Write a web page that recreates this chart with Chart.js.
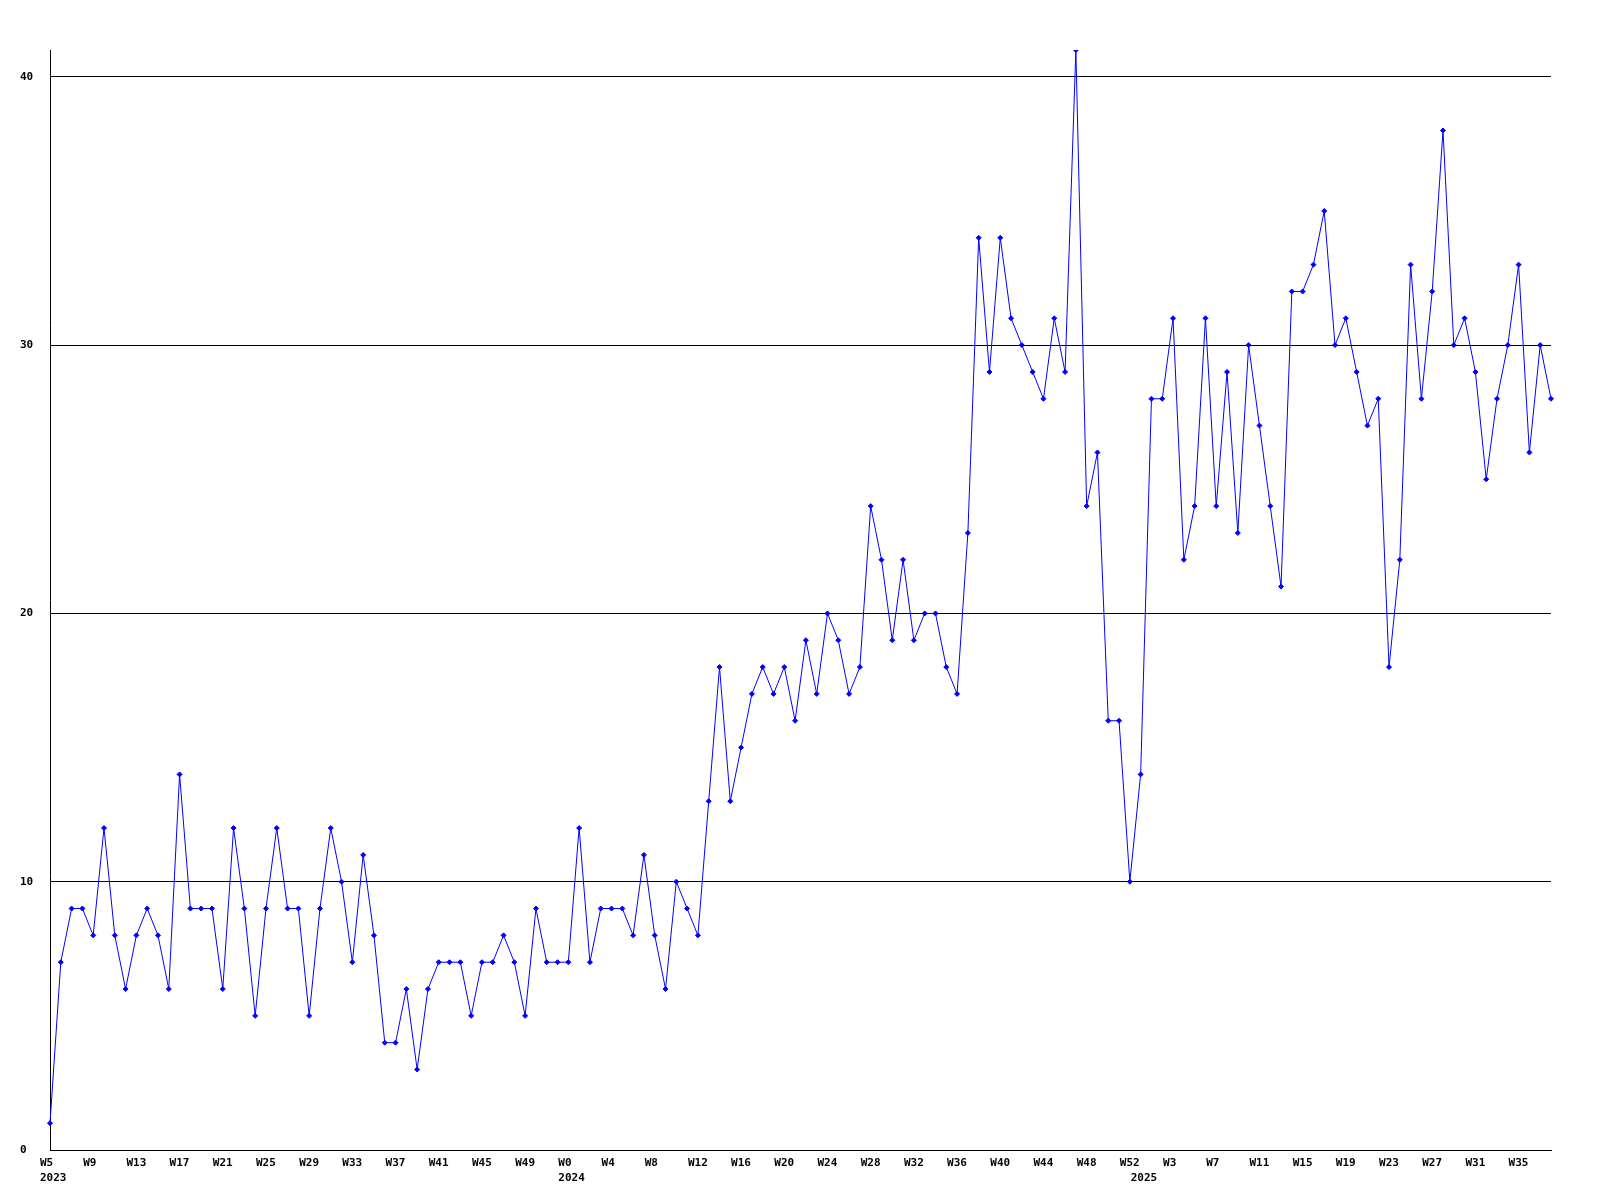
<!DOCTYPE html>
<html>
<head>
<meta charset="utf-8">
<title>Weekly count</title>
<script src="https://cdn.jsdelivr.net/npm/chart.js@4.4.1/dist/chart.umd.min.js"></script>
<style>
  body { margin: 0; background: #fff; }
  #wrap { width: 1600px; height: 1200px; }
</style>
</head>
<body>
<div id="wrap"><canvas id="chart" width="1600" height="1200"></canvas></div>
<script>
// weekly values, one array per year
const values2023 = [1, 7, 9, 9, 8, 12, 8, 6, 8, 9, 8, 6, 14, 9, 9, 9, 6, 12, 9, 5,
  9, 12, 9, 9, 5, 9, 12, 10, 7, 11, 8, 4, 4, 6, 3, 6, 7, 7, 7, 5,
  7, 7, 8, 7, 5, 9, 7, 7];
const values2024 = [7, 12, 7, 9, 9, 9, 8, 11, 8, 6, 10, 9, 8, 13, 18, 13, 15, 17, 18, 17,
  18, 16, 19, 17, 20, 19, 17, 18, 24, 22, 19, 22, 19, 20, 20, 18, 17, 23, 34, 29,
  34, 31, 30, 29, 28, 31, 29, 41, 24, 26, 16, 16, 10];
const values2025 = [14, 28, 28, 31, 22, 24, 31, 24, 29, 23, 30, 27, 24, 21, 32, 32, 33, 35, 30, 31,
  29, 27, 28, 18, 22, 33, 28, 32, 38, 30, 31, 29, 25, 28, 30, 33, 26, 30, 28];

const years = [2023, 2024, 2025];
const firstWeeks = [5, 0, 0];
const yTicks = [0, 10, 20, 30, 40];

const perYear = [values2023, values2024, values2025];

// build the labels "W5", "W6" ... and remember where each year starts
const weekLabels = [];
const yearAt = {};
const values = [];
perYear.forEach((arr, y) => {
    yearAt[weekLabels.length] = String(years[y]);
    arr.forEach((v, i) => {
        weekLabels.push("W" + (firstWeeks[y] + i));
        values.push(v);
    });
});

const font = { family: "'DejaVu Sans Mono', 'Liberation Mono', monospace", size: 11, weight: "bold", lineHeight: "15.5px" };

const ctx = document.getElementById("chart").getContext("2d");

new Chart(ctx, {
    type: "line",
    data: {
        labels: weekLabels,
        datasets: [{
            data: values,
            borderColor: "#0000ff",
            borderWidth: 1,
            tension: 0,
            pointStyle: "rectRot",
            pointRadius: 2.5,
            pointBackgroundColor: "#0000ff",
            pointBorderColor: "#0000ff",
            pointBorderWidth: 1
        }]
    },
    options: {
        responsive: false,
        animation: false,
        layout: { padding: { left: 20, top: 50, right: 49, bottom: 0 } },
        plugins: {
            legend: { display: false },
            tooltip: { enabled: false }
        },
        scales: {
            x: {
                grid: { display: false },
                border: { display: true, color: "#000", width: 1 },
                afterFit: (scale) => { scale.height = 50; },
                ticks: {
                    autoSkip: false,
                    maxRotation: 0,
                    align: "start",
                    labelOffset: -10,
                    padding: -3,
                    color: "#000",
                    font: font,
                    callback: (value, index) => {
                        const week = index % 4 === 0 ? weekLabels[index] : "";
                        if (yearAt[index]) return [week, yearAt[index]];
                        return week;
                    }
                }
            },
            y: {
                min: 0,
                max: 41,
                grid: { color: "#000", lineWidth: 1, drawTicks: false },
                border: { display: true, color: "#000", width: 1 },
                afterFit: (scale) => { scale.width = 30; },
                afterBuildTicks: (scale) => { scale.ticks = yTicks.map(v => ({ value: v })); },
                ticks: {
                    crossAlign: "far",
                    padding: 0,
                    color: "#000",
                    font: font
                }
            }
        }
    }
});
</script>
</body>
</html>
